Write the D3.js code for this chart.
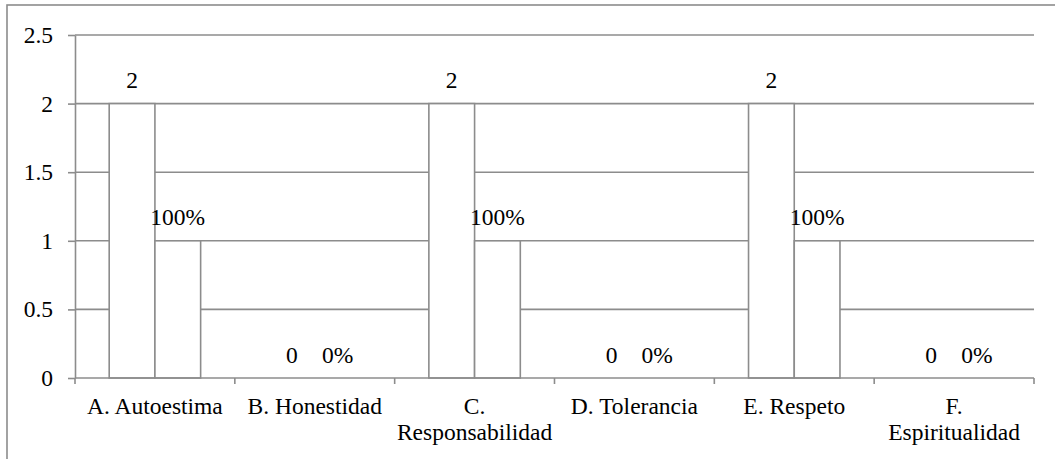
<!DOCTYPE html>
<html>
<head>
<meta charset="utf-8">
<script src="https://cdn.jsdelivr.net/npm/d3@7"></script>
<style>
  html, body { margin: 0; padding: 0; background: #fff; }
  svg { display: block; }
</style>
</head>
<body>
<svg id="chart" width="1055" height="459"></svg>
<script>
const categories = ["A. Autoestima", "B. Honestidad", "C. Responsabilidad", "D. Tolerancia", "E. Respeto", "F. Espiritualidad"];
const countValues = [2, 0, 2, 0, 2, 0];
const pctValues = [1, 0, 1, 0, 1, 0];
const pctLabels = ["100%", "0%", "100%", "0%", "100%", "0%"];
const yTicks = [0, 0.5, 1, 1.5, 2, 2.5];
const seriesKeys = ["count", "pct"];

(function () {
const rows = categories.map((c, i) => ({
  cat: c,
  count: countValues[i],
  pct: pctValues[i],
  labels: { count: String(countValues[i]), pct: pctLabels[i] }
}));

const svg = d3.select("#chart");
const gridColor = "#8c8c8c";
const fontSize = 23.5;
const serif = "'Liberation Serif', 'Times New Roman', serif";

// outer frame
svg.append("rect")
  .attr("x", 7).attr("y", 5).attr("width", 1060).attr("height", 470)
  .attr("fill", "none").attr("stroke", gridColor).attr("stroke-width", 1.6);

const mLeft = 75, mRight = 1034, mTop = 35, mBottom = 378;

const x = d3.scaleBand().domain(categories).range([mLeft, mRight]).paddingInner(0).paddingOuter(0);
const xs = d3.scaleBand().domain(seriesKeys).range([0, x.bandwidth()]).paddingInner(0).paddingOuter(0.748);
const y = d3.scaleLinear().domain([0, 2.5]).range([mBottom, mTop]);

// gridlines
svg.append("g").selectAll("line").data(yTicks.filter(t => t > 0)).join("line")
  .attr("x1", mLeft).attr("x2", mRight)
  .attr("y1", d => y(d)).attr("y2", d => y(d))
  .attr("stroke", gridColor).attr("stroke-width", 1.6);

// y axis
const yAxis = svg.append("g").attr("transform", `translate(${mLeft},0)`)
  .call(d3.axisLeft(y).tickValues(yTicks).tickSize(7).tickSizeOuter(0).tickPadding(15).tickFormat(d3.format("")));
yAxis.select(".domain").attr("stroke", gridColor).attr("stroke-width", 1.6);
yAxis.selectAll(".tick line").attr("stroke", gridColor).attr("stroke-width", 1.6);
yAxis.selectAll(".tick text").attr("fill", "#000")
  .style("font-family", serif).style("font-size", fontSize + "px");

// bars
const groups = svg.append("g").selectAll("g").data(rows).join("g")
  .attr("transform", d => `translate(${x(d.cat)},0)`);

groups.selectAll("rect").data(d => seriesKeys.map(k => ({ key: k, value: d[k] }))).join("rect")
  .attr("x", d => xs(d.key))
  .attr("width", xs.bandwidth())
  .attr("y", d => y(d.value))
  .attr("height", d => y(0) - y(d.value))
  .attr("fill", "#fff")
  .attr("stroke", gridColor).attr("stroke-width", 1.6);

groups.selectAll("text.val").data(d => seriesKeys.map(k => ({ key: k, value: d[k], label: d.labels[k] }))).join("text")
  .attr("class", "val")
  .attr("x", d => xs(d.key) + xs.bandwidth() / 2)
  .attr("y", d => y(d.value) - 15.5)
  .attr("text-anchor", "middle")
  .attr("fill", "#000")
  .style("font-family", serif).style("font-size", fontSize + "px")
  .text(d => d.label);

// x axis
const xAxis = svg.append("g").attr("transform", `translate(0,${mBottom})`)
  .call(d3.axisBottom(x).tickSize(0).tickSizeOuter(0).tickPadding(0));
xAxis.select(".domain").remove();
xAxis.append("line").attr("x1", mLeft).attr("x2", mRight).attr("y1", 0).attr("y2", 0)
  .attr("stroke", gridColor).attr("stroke-width", 1.6);
xAxis.selectAll(".boundary").data(d3.range(categories.length + 1)).join("line")
  .attr("class", "boundary")
  .attr("x1", i => mLeft + i * x.step()).attr("x2", i => mLeft + i * x.step())
  .attr("y1", 0).attr("y2", 6)
  .attr("stroke", gridColor).attr("stroke-width", 1.6);

xAxis.selectAll(".tick text").each(function(d) {
  const t = d3.select(this);
  t.text(null).attr("fill", "#000").attr("y", 0).attr("dy", null)
    .style("font-family", serif).style("font-size", fontSize + "px");
  const words = d.split(" ");
  const maxW = x.bandwidth() - 10;
  const lines = [];
  let cur = [];
  const probe = t.append("tspan");
  words.forEach(w => {
    const test = cur.concat([w]).join(" ");
    probe.text(test);
    if (probe.node().getComputedTextLength() > maxW && cur.length) {
      lines.push(cur.join(" "));
      cur = [w];
    } else {
      cur.push(w);
    }
  });
  lines.push(cur.join(" "));
  probe.remove();
  lines.forEach((ln, i) => {
    t.append("tspan").attr("x", 0).attr("y", 36 + i * 26).text(ln);
  });
});
})();
</script>
</body>
</html>
